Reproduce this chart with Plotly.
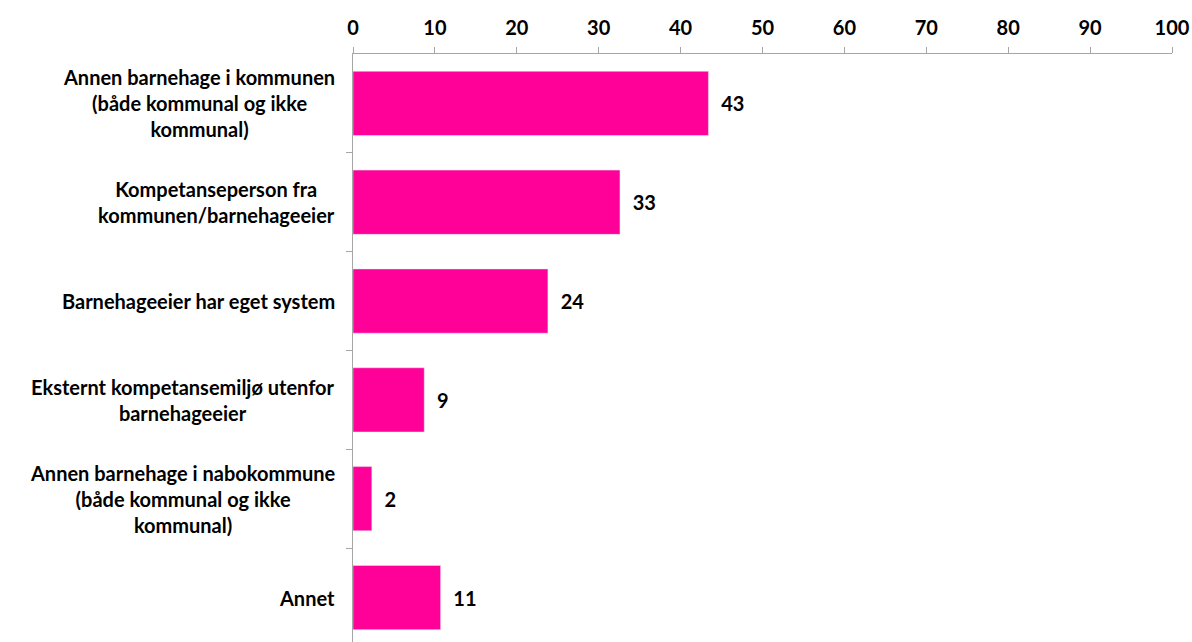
import plotly.graph_objects as go

# Chart data
categories = [
    "Annen barnehage i kommunen<br>(både kommunal og ikke<br>kommunal)",
    "Kompetanseperson fra<br>kommunen/barnehageeier",
    "Barnehageeier har eget system",
    "Eksternt kompetansemiljø utenfor<br>barnehageeier",
    "Annen barnehage i nabokommune<br>(både kommunal og ikke<br>kommunal)",
    "Annet",
]
values = [43.4, 32.6, 23.8, 8.7, 2.3, 10.7]
labels = ["43", "33", "24", "9", "2", "11"]
x_ticks = [0, 10, 20, 30, 40, 50, 60, 70, 80, 90, 100]

font_family = "Lato, 'Open Sans', sans-serif"
font_size = 20
bar_color = "#FF0099"
axis_color = "#A6A6A6"
bold_font = dict(family=font_family, size=font_size, color="black", weight="bold")

fig = go.Figure()
fig.add_trace(go.Bar(
    x=values,
    y=list(range(len(categories))),
    orientation="h",
    marker_color=bar_color,
    text=labels,
    texttemplate="  %{text}",
    textposition="outside",
    textfont=bold_font,
    cliponaxis=False,
    width=0.65,
))

# Category labels: right-aligned block, centred lines
for i, cat in enumerate(categories):
    fig.add_annotation(
        x=0, xref="paper", y=i, yref="y",
        text=cat, showarrow=False,
        xanchor="right", xshift=-16, align="center",
        font=bold_font,
    )

fig.update_layout(
    width=1192, height=642,
    margin=dict(l=353, r=20, t=54, b=0, autoexpand=False),
    paper_bgcolor="white", plot_bgcolor="white",
    showlegend=False,
    xaxis=dict(
        side="top", range=[0, 100], tickvals=x_ticks,
        showgrid=False, zeroline=False,
        showline=True, linecolor=axis_color, linewidth=1,
        ticks="outside", ticklen=6, tickcolor=axis_color,
        ticklabelstandoff=4,
        tickfont=bold_font, automargin=False,
    ),
    yaxis=dict(
        range=[5.45, -0.5], tickmode="array",
        tickvals=[i + 0.5 for i in range(len(categories) - 1)],
        showticklabels=False, showgrid=False, zeroline=False,
        showline=True, linecolor=axis_color, linewidth=1,
        ticks="outside", ticklen=6, tickcolor=axis_color,
        automargin=False,
    ),
)

# drop the default 8px body margin so the figure fills the window exactly
fig.write_html("out.html", config={"displayModeBar": False},
               post_script="document.body.style.margin='0';")
